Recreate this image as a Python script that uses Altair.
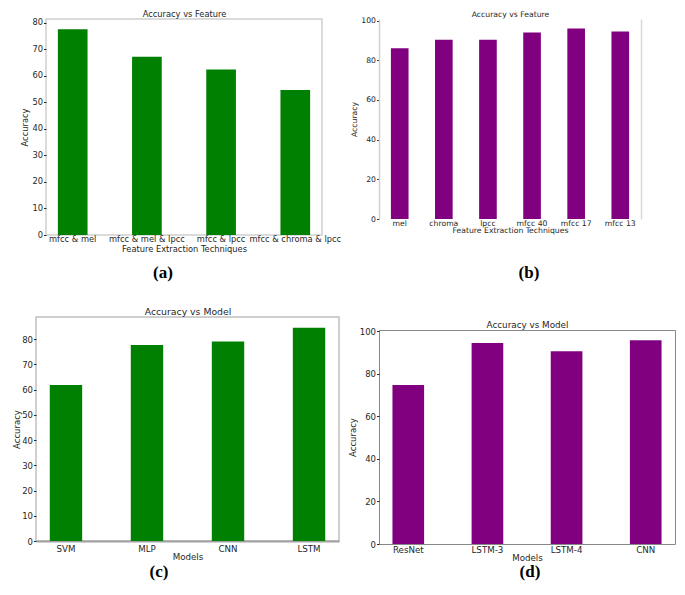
import altair as alt
import pandas as pd

# ---- data ----
a_labels = ["mfcc & mel", "mfcc & mel & lpcc", "mfcc & lpcc", "mfcc & chroma & lpcc"]
a_values = [77.6, 67.2, 62.4, 54.7]

b_labels = ["mel", "chroma", "lpcc", "mfcc 40", "mfcc 17", "mfcc 13"]
b_values = [86.0, 90.3, 90.3, 94.0, 96.0, 94.5]

c_labels = ["SVM", "MLP", "CNN", "LSTM"]
c_values = [61.8, 77.6, 79.0, 84.5]

d_labels = ["ResNet", "LSTM-3", "LSTM-4", "CNN"]
d_values = [74.7, 94.5, 90.6, 95.8]

a_ticks = [0, 10, 20, 30, 40, 50, 60, 70, 80]
b_ticks = [0, 20, 40, 60, 80, 100]
c_ticks = [0, 10, 20, 30, 40, 50, 60, 70, 80]
d_ticks = [0, 20, 40, 60, 80, 100]

FONT = "DejaVu Sans"
TXT = "#262626"
GREEN = "#008000"
PURPLE = "#800080"


def panel(labels, values, color, title, xtitle, caption, w, h, yvals,
          fs_x, fs_y, fs_t, po, view, y_tp, x_lp, x_tp, cap_dx, cap_off,
          xdomain=None, ydomain=None, right_axis=None):
    df = pd.DataFrame({"feature": labels, "accuracy": values})
    ymax = max(values) * 1.05
    xax = dict(labelAngle=0, labelFontSize=fs_x, titleFontSize=fs_x, labelPadding=x_lp,
               titlePadding=x_tp, tickSize=0, labelColor=TXT, titleColor=TXT,
               labelFont=FONT, titleFont=FONT, titleFontWeight="normal", grid=False)
    if xdomain:
        xax.update(domain=True, domainColor=xdomain[0], domainWidth=xdomain[1])
    else:
        xax.update(domain=False)
    yax = dict(values=yvals, labelFontSize=fs_y, titleFontSize=fs_y, labelPadding=1,
               titlePadding=y_tp, tickSize=2.5, tickColor=TXT, labelColor=TXT, titleColor=TXT,
               labelFont=FONT, titleFont=FONT, titleFontWeight="normal", grid=False)
    if ydomain:
        yax.update(domain=True, domainColor=ydomain[0], domainWidth=ydomain[1])
    else:
        yax.update(domain=False)
    xscale = alt.Scale(paddingInner=0.6, paddingOuter=po)
    yscale = alt.Scale(domain=[0, ymax], nice=False, zero=True)
    bars = alt.Chart(df).mark_bar(color=color).encode(
        x=alt.X("feature:N", sort=labels, title=xtitle, scale=xscale, axis=alt.Axis(**xax)),
        y=alt.Y("accuracy:Q", title="Accuracy", scale=yscale, axis=alt.Axis(**yax)),
    )
    if right_axis:
        ghost_y = alt.Y("accuracy:Q", scale=yscale,
                        axis=alt.Axis(orient="right", labels=False, ticks=False, title=None,
                                      grid=False, domain=True, domainColor=right_axis[0],
                                      domainWidth=right_axis[1]))
    else:
        ghost_y = alt.Y("accuracy:Q", title="Accuracy", scale=yscale, axis=alt.Axis(**yax))
    ghost = alt.Chart(df).mark_bar(opacity=0).encode(
        x=alt.X("feature:N", sort=labels, scale=xscale,
                axis=alt.Axis(orient="top", labels=False, ticks=False, domain=False,
                              grid=False, title=title, titleFont=FONT, titleFontSize=fs_t,
                              titleFontWeight="normal", titleColor=TXT, titlePadding=1,
                              minExtent=0)),
        y=ghost_y,
    )
    ch = alt.layer(bars, ghost).resolve_axis(
        x="independent", y="independent" if right_axis else "shared")
    return ch.properties(
        width=w, height=h, view=view,
        title=alt.TitleParams(caption, orient="bottom", font="Liberation Serif",
                              fontSize=17, fontWeight="bold", color="#000",
                              anchor="middle", frame="group", dx=cap_dx, offset=cap_off),
    )


pa = panel(a_labels, a_values, GREEN, "Accuracy vs Feature", "Feature Extraction Techniques", "(a)",
           276, 216, a_ticks, 8.3, 8.3, 8.3, 0.16,
           alt.ViewBackground(stroke="#d0d0d0", strokeWidth=1.5),
           y_tp=2, x_lp=-0.5, x_tp=1.5, cap_dx=-21, cap_off=12)
pb = panel(b_labels, b_values, PURPLE, "Accuracy vs Feature", "Feature Extraction Techniques", "(b)",
           262, 200, b_ticks, 7.7, 7.7, 7.7, 0.27,
           alt.ViewBackground(stroke="transparent"),
           y_tp=2, x_lp=0, x_tp=0, cap_dx=19, cap_off=31,
           ydomain=("#d0d0d0", 1.5), right_axis=("#d8d8d8", 1.5))
pc = panel(c_labels, c_values, GREEN, "Accuracy vs Model", "Models", "(c)",
           303, 224, c_ticks, 8.7, 8.5, 9.3, 0.17,
           alt.ViewBackground(stroke="#c0c0c0", strokeWidth=1.5),
           y_tp=0, x_lp=3, x_tp=0, cap_dx=-28.5, cap_off=3,
           xdomain=("#a0a0a0", 2))
pd_ = panel(d_labels, d_values, PURPLE, "Accuracy vs Model", "Models", "(d)",
            296, 214, d_ticks, 8.7, 8.5, 8.8, 0.17,
            alt.ViewBackground(stroke="#888888", strokeWidth=1),
            y_tp=1.5, x_lp=1, x_tp=0, cap_dx=3, cap_off=2)


def spacer(w):
    return alt.Chart(pd.DataFrame({"s": [0]})).mark_point(size=0, opacity=0).encode(
        x=alt.value(0.5), y=alt.value(4)
    ).properties(width=w, height=10, view=alt.ViewBackground(stroke="transparent"))


left = alt.vconcat(
    alt.hconcat(spacer(10.1), pa, spacing=0),
    alt.hconcat(spacer(1), pc, spacing=0),
    spacing=24,
)
right = alt.vconcat(pb, pd_, spacing=37)

chart = alt.hconcat(left, right, spacing=6).properties(
    padding={"left": 0, "top": 0, "right": 0, "bottom": 0},
    background="white",
).configure_view(stroke="#cccccc")

chart.save("out.html", embed_options={"renderer": "svg", "actions": False})
